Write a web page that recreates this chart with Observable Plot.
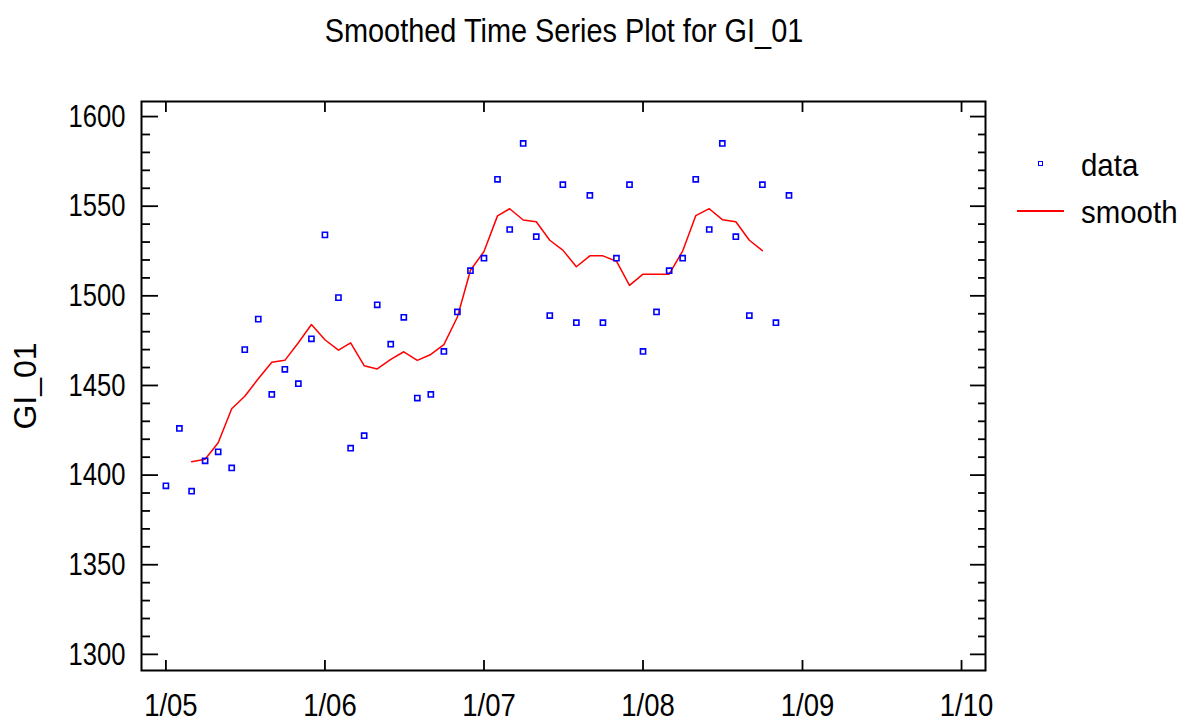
<!DOCTYPE html>
<html>
<head>
<meta charset="utf-8">
<script src="https://cdn.jsdelivr.net/npm/d3@7"></script>
<script src="https://cdn.jsdelivr.net/npm/@observablehq/plot@0.6"></script>
<style>
  html, body { margin: 0; padding: 0; background: #fff; }
  #wrap { position: relative; width: 1193px; height: 723px; overflow: hidden;
          font-family: "Liberation Sans Narrow", "Arial Narrow", "Liberation Sans", sans-serif; color: #000; }
  #chart { position: absolute; left: 0; top: 0; }
  .txt { position: absolute; white-space: nowrap; line-height: 1; }
  #title { left: 0; width: 1128px; text-align: center; top: 13px; font-size: 34px; transform: scaleX(0.85); }
  #lg-data { left: 1081px; top: 149px; font-size: 32px; transform: scaleX(0.92); transform-origin: left center; }
  #lg-smooth { left: 1081px; top: 196px; font-size: 32px; transform: scaleX(0.92); transform-origin: left center; }
  #lg-square { position: absolute; left: 1038px; top: 161px; width: 3px; height: 3px; border: 1.6px solid #0000ff; }
  #lg-line { position: absolute; left: 1017px; top: 210px; width: 47px; height: 1.5px; background: #ff0000; }
</style>
</head>
<body>
<div id="wrap">
  <div id="chart"></div>
  <div id="title" class="txt">Smoothed Time Series Plot for GI_01</div>
  <div id="lg-square"></div>
  <div id="lg-data" class="txt">data</div>
  <div id="lg-line"></div>
  <div id="lg-smooth" class="txt">smooth</div>
</div>
<script>
// ---- data (monthly, Jan 2005 – Dec 2008) ----
const firstMonth = new Date(Date.UTC(2005, 0, 1));
const gi01 = [1394, 1426, 1391, 1408, 1413, 1404, 1470, 1487, 1445, 1459, 1451, 1476,
              1534, 1499, 1415, 1422, 1495, 1473, 1488, 1443, 1445, 1469, 1491, 1514,
              1521, 1565, 1537, 1585, 1533, 1489, 1562, 1485, 1556, 1485, 1521, 1562,
              1469, 1491, 1514, 1521, 1565, 1537, 1585, 1533, 1489, 1562, 1485, 1556];
// smoothed values, Mar 2005 – Oct 2008
const smoothStart = 2;
const smooth = [1407.5, 1408.8, 1418, 1437, 1444, 1453.7, 1463, 1464, 1473.8, 1484,
                1475.5, 1469.7, 1473.8, 1461, 1459.2, 1464.5, 1468.8, 1464, 1467.3, 1472.8,
                1488.2, 1514.3, 1524.7, 1544.6, 1548.6, 1542.3, 1541.3, 1531, 1525.5, 1516.2,
                1522.3, 1522.3, 1519.3, 1505.8, 1512.1, 1512.1, 1512.1, 1525, 1544.7, 1548.6,
                1542.5, 1541.3, 1531, 1525.2];
const xTickYears = [2005, 2006, 2007, 2008, 2009, 2010];
const xTickLabels = ["1/05", "1/06", "1/07", "1/08", "1/09", "1/10"];
const yMajor = [1300, 1350, 1400, 1450, 1500, 1550, 1600];
const yMinorStep = 10;

// ---- build tables ----
const monthDate = i => d3.utcMonth.offset(firstMonth, i);
const dataRows = gi01.map((v, i) => ({date: monthDate(i), value: v}));
const smoothRows = smooth.map((v, i) => ({date: monthDate(i + smoothStart), value: v}));
const xTicks = xTickYears.map(y => new Date(Date.UTC(y, 0, 1)));
const labelOf = new Map(xTicks.map((d, i) => [+d, xTickLabels[i]]));
const yMinor = d3.range(yMajor[0], yMajor[yMajor.length - 1] + 1, yMinorStep).filter(v => !yMajor.includes(v));

const ink = "#000";
const chart = Plot.plot({
  width: 1193,
  height: 723,
  marginLeft: 141,
  marginRight: 208,
  marginTop: 101,
  marginBottom: 53,
  style: {fontFamily: '"Liberation Sans Narrow", "Arial Narrow", "Liberation Sans", sans-serif', fontSize: "32px", color: ink, background: "transparent", overflow: "visible"},
  x: {type: "utc", domain: [new Date(Date.UTC(2004, 10, 6)), new Date(Date.UTC(2010, 1, 25))]},
  y: {domain: [1291, 1608.4]},
  marks: [
    // inward ticks
    Plot.axisY(yMajor, {anchor: "left", tickSize: 17, insetLeft: 17, tickFormat: () => "", label: null, strokeWidth: 1.8, stroke: ink}),
    Plot.axisY(yMinor, {anchor: "left", tickSize: 9, insetLeft: 9, tickFormat: () => "", label: null, strokeWidth: 1.8, stroke: ink}),
    Plot.axisY(yMajor, {anchor: "right", tickSize: 16, insetRight: 16, tickFormat: () => "", label: null, strokeWidth: 1.8, stroke: ink}),
    Plot.axisY(yMinor, {anchor: "right", tickSize: 8, insetRight: 8, tickFormat: () => "", label: null, strokeWidth: 1.8, stroke: ink}),
    Plot.axisX(xTicks, {anchor: "bottom", tickSize: 10, insetBottom: 10, tickFormat: () => "", label: null, strokeWidth: 1.8, stroke: ink}),
    Plot.axisX(xTicks, {anchor: "top", tickSize: 10, insetTop: 10, tickFormat: () => "", label: null, strokeWidth: 1.8, stroke: ink}),
    // labels
    Plot.axisY(yMajor, {anchor: "left", tickSize: 0, tickPadding: 16, tickFormat: d => String(d),
      label: "GI_01", labelAnchor: "center", labelArrow: "none", labelOffset: 128}),
    Plot.axisX(xTicks, {anchor: "bottom", tickSize: 0, tickPadding: 23, dx: 5, tickFormat: d => labelOf.get(+d), label: null}),
    Plot.frame({stroke: ink, strokeWidth: 2}),
    // data
    Plot.line(smoothRows, {x: "date", y: "value", stroke: "#ff0000", strokeWidth: 1.5}),
    Plot.dot(dataRows, {x: "date", y: "value", symbol: "square", r: 2.9, fill: "none", stroke: "#0000ff", strokeWidth: 1.6})
  ]
});
document.getElementById("chart").appendChild(chart);

// condense axis text horizontally (narrow font look), keeping each anchor in place
function condense(selector, k) {
  chart.querySelectorAll(selector).forEach(t => {
    const tr = t.getAttribute("transform");
    if (tr) {
      t.setAttribute("transform", tr + ` scale(${k},1)`);
    } else {
      const x = +(t.getAttribute("x") || 0), y = +(t.getAttribute("y") || 0);
      t.setAttribute("x", 0); t.setAttribute("y", 0);
      t.setAttribute("transform", `translate(${x},${y}) scale(${k},1)`);
    }
  });
}
condense('g[aria-label="y-axis tick label"] text', 0.8);
condense('g[aria-label="x-axis tick label"] text', 0.86);
</script>
</body>
</html>
